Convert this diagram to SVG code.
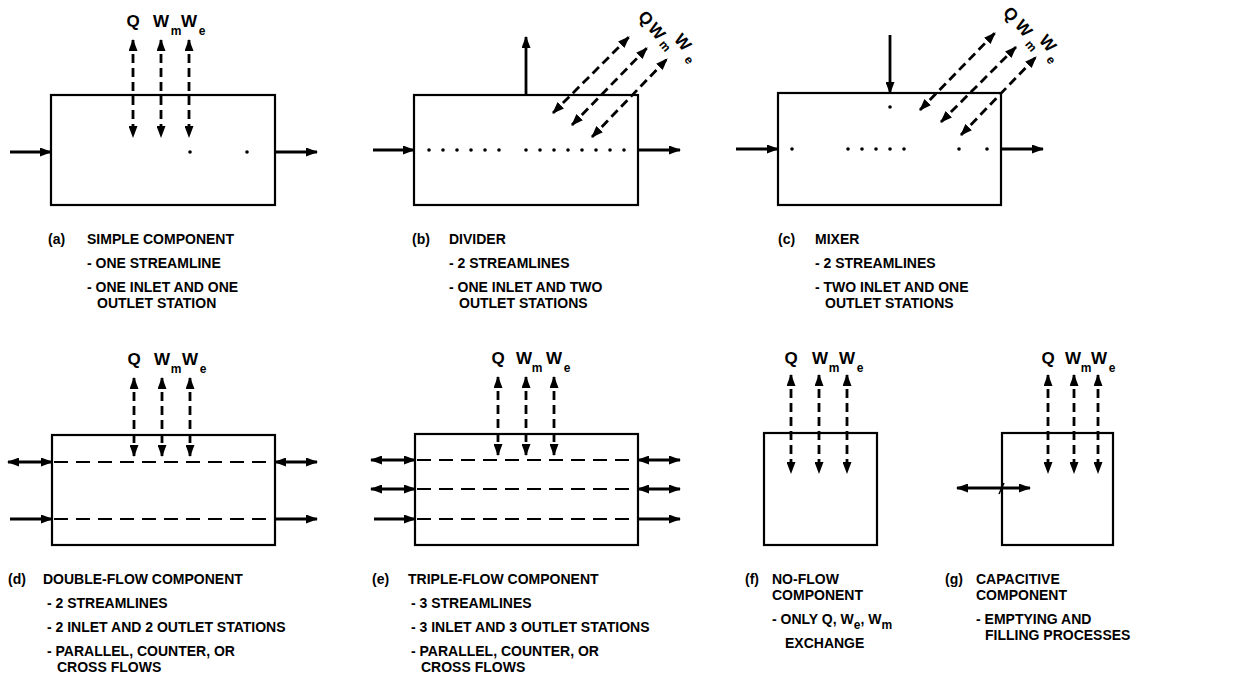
<svg xmlns="http://www.w3.org/2000/svg" width="1235" height="685" viewBox="0 0 1235 685">
<style>
.box{fill:none;stroke:#000;stroke-width:2.2}
.a{fill:none;stroke:#000;stroke-width:2.8;marker-end:url(#ah)}
.aa{fill:none;stroke:#000;stroke-width:2.8;marker-end:url(#ah);marker-start:url(#ah)}
.d{stroke-dasharray:9 5}
.sl{fill:none;stroke:#000;stroke-width:2.2;stroke-dasharray:14 8}
.dot{fill:#000}
text{font-family:"Liberation Sans",Arial,sans-serif;font-weight:bold;fill:#000}
.cap{font-size:14px}
.lab{font-size:17px}
.sub{font-size:12px}
</style>
<defs>
<marker id="ah" viewBox="0 0 12 9" refX="11" refY="4.5" markerWidth="12" markerHeight="9" markerUnits="userSpaceOnUse" orient="auto-start-reverse">
<path d="M0,0 L12,4.5 L0,9 z" fill="#000"/>
</marker>
</defs>

<g id="node-a">
<rect class="box" x="51" y="95" width="224" height="110"/>
<circle class="dot" cx="190" cy="152" r="1.8"/><circle class="dot" cx="247" cy="152" r="1.8"/>
<text class="lab" x="133" y="27" text-anchor="middle">Q</text>
<text class="lab" x="161" y="27" text-anchor="middle">W</text><text class="sub" x="176" y="35" text-anchor="middle">m</text>
<text class="lab" x="189" y="27" text-anchor="middle">W</text><text class="sub" x="202" y="35" text-anchor="middle">e</text>
<text class="cap" x="48" y="244">(a)</text>
<text class="cap" x="87" y="244">SIMPLE COMPONENT</text>
<text class="cap" x="87" y="268">- ONE STREAMLINE</text>
<text class="cap" x="87" y="292">- ONE INLET AND ONE</text>
<text class="cap" x="97" y="308">OUTLET STATION</text>
</g>

<g id="node-b">
<rect class="box" x="414" y="95" width="224" height="110"/>
<g class="dot">
<circle cx="429" cy="150" r="1.8"/><circle cx="443" cy="150" r="1.8"/><circle cx="457" cy="150" r="1.8"/><circle cx="471" cy="150" r="1.8"/><circle cx="485" cy="150" r="1.8"/><circle cx="499" cy="150" r="1.8"/>
<circle cx="526" cy="150" r="1.8"/><circle cx="540" cy="150" r="1.8"/><circle cx="554" cy="150" r="1.8"/><circle cx="568" cy="150" r="1.8"/><circle cx="582" cy="150" r="1.8"/><circle cx="596" cy="150" r="1.8"/><circle cx="610" cy="150" r="1.8"/><circle cx="624" cy="150" r="1.8"/>
</g>
<g transform="translate(646,18) rotate(50)"><text class="lab" text-anchor="middle" dy="6">Q</text></g>
<g transform="translate(657,31) rotate(50)"><text class="lab" text-anchor="middle" dy="6">W</text></g>
<g transform="translate(665,46) rotate(50)"><text class="sub" text-anchor="middle" dy="4">m</text></g>
<g transform="translate(683,42) rotate(50)"><text class="lab" text-anchor="middle" dy="6">W</text></g>
<g transform="translate(689,60) rotate(50)"><text class="sub" text-anchor="middle" dy="4">e</text></g>
<text class="cap" x="412" y="244">(b)</text>
<text class="cap" x="449" y="244">DIVIDER</text>
<text class="cap" x="449" y="268">- 2 STREAMLINES</text>
<text class="cap" x="449" y="292">- ONE INLET AND TWO</text>
<text class="cap" x="459" y="308">OUTLET STATIONS</text>
</g>

<g id="node-c">
<rect class="box" x="778" y="93" width="223" height="112"/>
<g class="dot">
<circle cx="890" cy="107" r="1.8"/>
<circle cx="792" cy="149" r="1.8"/>
<circle cx="848" cy="149" r="1.8"/><circle cx="862" cy="149" r="1.8"/><circle cx="876" cy="149" r="1.8"/><circle cx="890" cy="149" r="1.8"/><circle cx="904" cy="149" r="1.8"/>
<circle cx="959" cy="149" r="1.8"/><circle cx="987" cy="149" r="1.8"/>
</g>
<g transform="translate(1011,14) rotate(50)"><text class="lab" text-anchor="middle" dy="6">Q</text></g>
<g transform="translate(1024,28) rotate(50)"><text class="lab" text-anchor="middle" dy="6">W</text></g>
<g transform="translate(1031,46) rotate(50)"><text class="sub" text-anchor="middle" dy="4">m</text></g>
<g transform="translate(1048,43) rotate(50)"><text class="lab" text-anchor="middle" dy="6">W</text></g>
<g transform="translate(1051,60) rotate(50)"><text class="sub" text-anchor="middle" dy="4">e</text></g>
<text class="cap" x="778" y="244">(c)</text>
<text class="cap" x="815" y="244">MIXER</text>
<text class="cap" x="815" y="268">- 2 STREAMLINES</text>
<text class="cap" x="815" y="292">- TWO INLET AND ONE</text>
<text class="cap" x="825" y="308">OUTLET STATIONS</text>
</g>

<g id="node-d">
<rect class="box" x="52" y="435" width="223" height="110"/>
<line class="sl" x1="54" y1="462" x2="275" y2="462"/>
<line class="sl" x1="54" y1="519" x2="275" y2="519"/>
<text class="lab" x="134" y="365" text-anchor="middle">Q</text>
<text class="lab" x="162" y="365" text-anchor="middle">W</text><text class="sub" x="176" y="373" text-anchor="middle">m</text>
<text class="lab" x="190" y="365" text-anchor="middle">W</text><text class="sub" x="203" y="373" text-anchor="middle">e</text>
<text class="cap" x="8" y="584">(d)</text>
<text class="cap" x="43" y="584">DOUBLE-FLOW COMPONENT</text>
<text class="cap" x="47" y="608">- 2 STREAMLINES</text>
<text class="cap" x="47" y="632">- 2 INLET AND 2 OUTLET STATIONS</text>
<text class="cap" x="47" y="656">- PARALLEL, COUNTER, OR</text>
<text class="cap" x="57" y="672">CROSS FLOWS</text>
</g>

<g id="node-e">
<rect class="box" x="415" y="434" width="223" height="111"/>
<line class="sl" x1="417" y1="460" x2="638" y2="460"/>
<line class="sl" x1="417" y1="489" x2="638" y2="489"/>
<line class="sl" x1="417" y1="519" x2="638" y2="519"/>
<text class="lab" x="498" y="364" text-anchor="middle">Q</text>
<text class="lab" x="524" y="364" text-anchor="middle">W</text><text class="sub" x="537" y="372" text-anchor="middle">m</text>
<text class="lab" x="554" y="364" text-anchor="middle">W</text><text class="sub" x="567" y="372" text-anchor="middle">e</text>
<text class="cap" x="372" y="584">(e)</text>
<text class="cap" x="408" y="584">TRIPLE-FLOW COMPONENT</text>
<text class="cap" x="411" y="608">- 3 STREAMLINES</text>
<text class="cap" x="411" y="632">- 3 INLET AND 3 OUTLET STATIONS</text>
<text class="cap" x="411" y="656">- PARALLEL, COUNTER, OR</text>
<text class="cap" x="421" y="672">CROSS FLOWS</text>
</g>

<g id="node-f">
<rect class="box" x="764" y="433" width="113" height="112"/>
<text class="lab" x="791" y="364" text-anchor="middle">Q</text>
<text class="lab" x="820" y="364" text-anchor="middle">W</text><text class="sub" x="834" y="372" text-anchor="middle">m</text>
<text class="lab" x="847" y="364" text-anchor="middle">W</text><text class="sub" x="860" y="372" text-anchor="middle">e</text>
<text class="cap" x="745" y="584">(f)</text>
<text class="cap" x="772" y="584">NO-FLOW</text>
<text class="cap" x="772" y="600">COMPONENT</text>
<text class="cap" x="772" y="624">- ONLY Q, W<tspan class="sub" dy="5">e</tspan><tspan dy="-5">, W</tspan><tspan class="sub" dy="5">m</tspan></text>
<text class="cap" x="785" y="648">EXCHANGE</text>
</g>

<g id="node-g">
<rect class="box" x="1002" y="433" width="111" height="112"/>
<text class="lab" x="1048" y="364" text-anchor="middle">Q</text>
<text class="lab" x="1073" y="364" text-anchor="middle">W</text><text class="sub" x="1086" y="372" text-anchor="middle">m</text>
<text class="lab" x="1099" y="364" text-anchor="middle">W</text><text class="sub" x="1112" y="372" text-anchor="middle">e</text>
<text class="cap" x="945" y="584">(g)</text>
<text class="cap" x="976" y="584">CAPACITIVE</text>
<text class="cap" x="976" y="600">COMPONENT</text>
<text class="cap" x="976" y="624">- EMPTYING AND</text>
<text class="cap" x="985" y="640">FILLING PROCESSES</text>
</g>

<g id="connectors">
<line class="a" x1="10" y1="152" x2="51" y2="152"/>
<line class="a" x1="275" y1="152" x2="317" y2="152"/>
<line class="aa d" x1="133" y1="40" x2="133" y2="137"/>
<line class="aa d" x1="161" y1="40" x2="161" y2="137"/>
<line class="aa d" x1="189" y1="40" x2="189" y2="137"/>
<line class="a" x1="373" y1="150" x2="414" y2="150"/>
<line class="a" x1="638" y1="150" x2="680" y2="150"/>
<line class="a" x1="526" y1="95" x2="526" y2="37"/>
<line class="aa d" x1="553" y1="113" x2="629" y2="37"/>
<line class="aa d" x1="572" y1="125" x2="647" y2="48"/>
<line class="aa d" x1="592" y1="137" x2="667" y2="59"/>
<line class="a" x1="736" y1="149" x2="778" y2="149"/>
<line class="a" x1="1001" y1="149" x2="1043" y2="149"/>
<line class="a" x1="890" y1="35" x2="890" y2="93"/>
<line class="aa d" x1="920" y1="110" x2="995" y2="33"/>
<line class="aa d" x1="941" y1="122" x2="1016" y2="47"/>
<line class="aa d" x1="961" y1="135" x2="1036" y2="57"/>
<line class="aa" x1="8" y1="462" x2="52" y2="462"/>
<line class="aa" x1="275" y1="462" x2="317" y2="462"/>
<line class="a" x1="10" y1="519" x2="52" y2="519"/>
<line class="a" x1="275" y1="519" x2="317" y2="519"/>
<line class="aa d" x1="134" y1="378" x2="134" y2="456"/>
<line class="aa d" x1="162" y1="378" x2="162" y2="456"/>
<line class="aa d" x1="190" y1="378" x2="190" y2="456"/>
<line class="aa" x1="371" y1="460" x2="415" y2="460"/>
<line class="aa" x1="371" y1="489" x2="415" y2="489"/>
<line class="aa" x1="638" y1="460" x2="680" y2="460"/>
<line class="aa" x1="638" y1="489" x2="680" y2="489"/>
<line class="a" x1="374" y1="519" x2="415" y2="519"/>
<line class="a" x1="638" y1="519" x2="680" y2="519"/>
<line class="aa d" x1="498" y1="377" x2="498" y2="455"/>
<line class="aa d" x1="526" y1="377" x2="526" y2="455"/>
<line class="aa d" x1="554" y1="377" x2="554" y2="455"/>
<line class="aa d" x1="791" y1="375" x2="791" y2="473"/>
<line class="aa d" x1="819" y1="375" x2="819" y2="473"/>
<line class="aa d" x1="847" y1="375" x2="847" y2="473"/>
<line class="aa d" x1="1048" y1="375" x2="1048" y2="473"/>
<line class="aa d" x1="1074" y1="375" x2="1074" y2="473"/>
<line class="aa d" x1="1098" y1="375" x2="1098" y2="473"/>
<line class="aa" x1="957" y1="488" x2="1030" y2="488"/>
<line x1="999" y1="494" x2="1004" y2="483" stroke="#000" stroke-width="1.5"/>
</g>
</svg>
